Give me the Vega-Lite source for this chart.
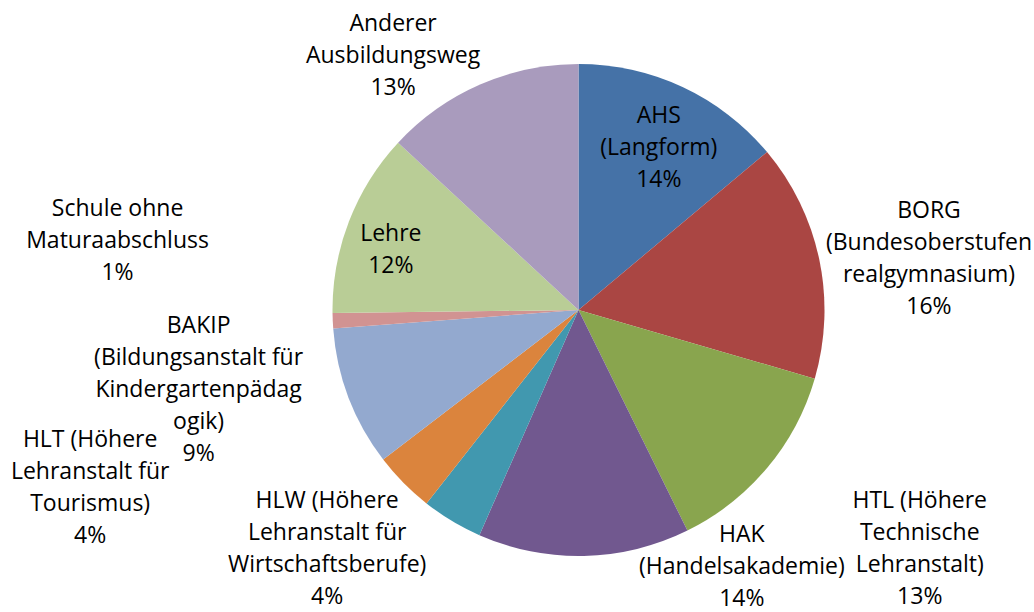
{
  "$schema": "https://vega.github.io/schema/vega-lite/v6.json",
  "autosize": {"type": "none"},
  "width": 492,
  "height": 492,
  "padding": {"left": 332.5, "top": 64, "right": 209.5, "bottom": 56},
  "background": "white",
  "config": {"view": {"stroke": null}, "text": {"font": "Open Sans", "fontSize": 23, "lineHeight": 32, "fill": "#000000", "align": "center", "baseline": "middle", "lineBreak": "\n"}},
  "data": {
    "values": [
      {"idx": 1, "key": "AHS", "label": "AHS\n(Langform)\n14%", "value": 13.9},
      {"idx": 2, "key": "BORG", "label": "BORG\n(Bundesoberstufen\nrealgymnasium)\n16%", "value": 15.6},
      {"idx": 3, "key": "HTL", "label": "HTL (Höhere\nTechnische\nLehranstalt)\n13%", "value": 13.2},
      {"idx": 4, "key": "HAK", "label": "HAK\n(Handelsakademie)\n14%", "value": 13.9},
      {"idx": 5, "key": "HLW", "label": "HLW (Höhere\nLehranstalt für\nWirtschaftsberufe)\n4%", "value": 4.0},
      {"idx": 6, "key": "HLT", "label": "HLT (Höhere\nLehranstalt für\nTourismus)\n4%", "value": 4.0},
      {"idx": 7, "key": "BAKIP", "label": "BAKIP\n(Bildungsanstalt für\nKindergartenpädag\nogik)\n9%", "value": 9.2},
      {"idx": 8, "key": "Schule", "label": "Schule ohne\nMaturaabschluss\n1%", "value": 1.0},
      {"idx": 9, "key": "Lehre", "label": "Lehre\n12%", "value": 12.1},
      {"idx": 10, "key": "Anderer", "label": "Anderer\nAusbildungsweg\n13%", "value": 13.1}
    ]
  },
  "encoding": {
    "theta": {"field": "value", "type": "quantitative", "stack": true},
    "order": {"field": "idx", "type": "quantitative", "sort": "ascending"}
  },
  "layer": [
    {
      "mark": {"type": "arc", "outerRadius": 246},
      "encoding": {
        "color": {
          "field": "key", "type": "nominal", "legend": null,
          "scale": {
            "domain": ["AHS", "BORG", "HTL", "HAK", "HLW", "HLT", "BAKIP", "Schule", "Lehre", "Anderer"],
            "range": ["#4572A7", "#AA4643", "#89A54E", "#71588F", "#4198AF", "#DB843D", "#93A9CF", "#D19392", "#B9CD96", "#A99BBD"]
          }
        }
      }
    },
    {
      "mark": {"type": "text", "radius": 178, "dx": 5, "dy": -33},
      "encoding": {"detail": {"field": "key"}, "text": {"condition": {"test": "datum.key === 'AHS'", "field": "label", "type": "nominal"}, "value": ""}}
    },
    {
      "mark": {"type": "text", "radius": 352, "dx": 6, "dy": -26.5},
      "encoding": {"detail": {"field": "key"}, "text": {"condition": {"test": "datum.key === 'BORG'", "field": "label", "type": "nominal"}, "value": ""}}
    },
    {
      "mark": {"type": "text", "radius": 410, "dx": 27, "dy": -72.5},
      "encoding": {"detail": {"field": "key"}, "text": {"condition": {"test": "datum.key === 'HTL'", "field": "label", "type": "nominal"}, "value": ""}}
    },
    {
      "mark": {"type": "text", "radius": 290, "dx": 157, "dy": -65},
      "encoding": {"detail": {"field": "key"}, "text": {"condition": {"test": "datum.key === 'HAK'", "field": "label", "type": "nominal"}, "value": ""}}
    },
    {
      "mark": {"type": "text", "radius": 300, "dx": -97, "dy": -66.5},
      "encoding": {"detail": {"field": "key"}, "text": {"condition": {"test": "datum.key === 'HLW'", "field": "label", "type": "nominal"}, "value": ""}}
    },
    {
      "mark": {"type": "text", "radius": 420, "dx": -189.5, "dy": -165.5},
      "encoding": {"detail": {"field": "key"}, "text": {"condition": {"test": "datum.key === 'HLT'", "field": "label", "type": "nominal"}, "value": ""}}
    },
    {
      "mark": {"type": "text", "radius": 390, "dx": -15.5, "dy": -123},
      "encoding": {"detail": {"field": "key"}, "text": {"condition": {"test": "datum.key === 'BAKIP'", "field": "label", "type": "nominal"}, "value": ""}}
    },
    {
      "mark": {"type": "text", "radius": 460, "dx": -1.4, "dy": -121.4},
      "encoding": {"detail": {"field": "key"}, "text": {"condition": {"test": "datum.key === 'Schule'", "field": "label", "type": "nominal"}, "value": ""}}
    },
    {
      "mark": {"type": "text", "radius": 200, "dx": -1, "dy": -4.5},
      "encoding": {"detail": {"field": "key"}, "text": {"condition": {"test": "datum.key === 'Lehre'", "field": "label", "type": "nominal"}, "value": ""}}
    },
    {
      "mark": {"type": "text", "radius": 315, "dx": -59.4, "dy": 2.7},
      "encoding": {"detail": {"field": "key"}, "text": {"condition": {"test": "datum.key === 'Anderer'", "field": "label", "type": "nominal"}, "value": ""}}
    }
  ]
}
